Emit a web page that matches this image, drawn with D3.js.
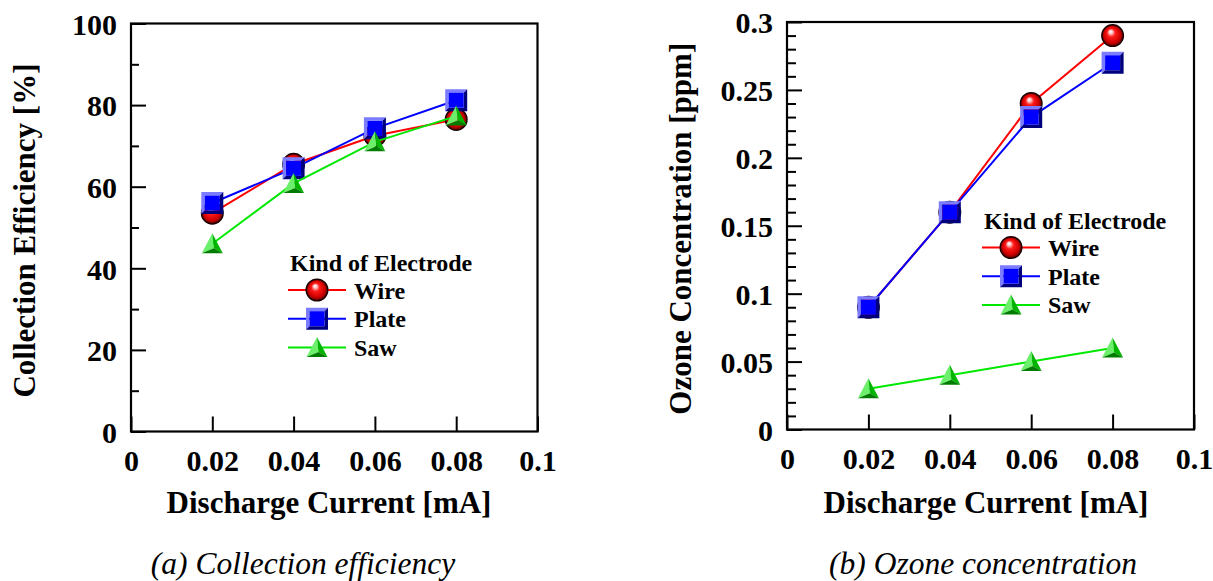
<!DOCTYPE html>
<html>
<head>
<meta charset="utf-8">
<script src="https://cdn.jsdelivr.net/npm/d3@7"></script>
<style>
  html, body { margin: 0; padding: 0; background: #fff; }
  svg { display: block; }
  .tick text { font-family: "Liberation Serif", "Times New Roman", serif; font-weight: bold; font-size: 30px; fill: #000; }
  .title { font-family: "Liberation Serif", "Times New Roman", serif; font-weight: bold; font-size: 31px; fill: #000; }
  .caption { font-family: "Liberation Serif", "Times New Roman", serif; font-style: italic; font-size: 31.5px; fill: #000; }
  .legend { font-family: "Liberation Serif", "Times New Roman", serif; font-weight: bold; font-size: 24px; fill: #000; }
</style>
</head>
<body>
<script>
// Discharge current (mA) at which each electrode was measured
const current = [0.02, 0.04, 0.06, 0.08];
const currentTicks = [0, 0.02, 0.04, 0.06, 0.08, 0.1];
const currentTickLabels = ["0", "0.02", "0.04", "0.06", "0.08", "0.1"];

// Collection efficiency [%]
const effWire  = [53.5, 65.5, 72.5, 76.5];
const effPlate = [56, 64.5, 74.3, 81.2];
const effSaw   = [46, 60.8, 71, 77.3];
const effTicks = [0, 20, 40, 60, 80, 100];
const effTickLabels = ["0", "20", "40", "60", "80", "100"];
const effMinorTicks = [10, 30, 50, 70, 90];

// Ozone concentration [ppm]
const ozWire  = [0.09, 0.16, 0.24, 0.29];
const ozPlate = [0.09, 0.16, 0.23, 0.27];
const ozSaw   = [0.03, 0.04, 0.05, 0.06];
const ozTicks = [0, 0.05, 0.1, 0.15, 0.2, 0.25, 0.3];
const ozTickLabels = ["0", "0.05", "0.1", "0.15", "0.2", "0.25", "0.3"];
const ozMinorTicks = [0.01, 0.02, 0.03, 0.04, 0.06, 0.07, 0.08, 0.09, 0.11, 0.12, 0.13, 0.14,
                      0.16, 0.17, 0.18, 0.19, 0.21, 0.22, 0.23, 0.24, 0.26, 0.27, 0.28, 0.29];

const seriesNames = ["Wire", "Plate", "Saw"];
const legendTitle = "Kind of Electrode";

const lineColor = { Wire: "#ff0000", Plate: "#0000ff", Saw: "#00e800" };
const markerKind = { Wire: "sphere", Plate: "box", Saw: "pyramid" };

const svg = d3.select("body").append("svg")
  .attr("width", 1213).attr("height", 581)
  .style("background", "#fff");

// Shared shading for the spherical marker
const defs = svg.append("defs");
const rg = defs.append("radialGradient").attr("id", "sphereFill")
  .attr("cx", 0.5).attr("cy", 0.5).attr("r", 0.5).attr("fx", 0.4).attr("fy", 0.3);
[[0, "#ffffff"], [0.16, "#ffc8c8"], [0.38, "#ff1a1a"], [0.75, "#d00000"], [1, "#600000"]]
  .forEach(([o, c]) => rg.append("stop").attr("offset", o).attr("stop-color", c));

function drawMarker(g, kind, cx, cy) {
  const m = g.append("g").attr("transform", `translate(${cx},${cy})`);
  if (kind === "sphere") {
    m.append("circle").attr("r", 10.8).attr("fill", "url(#sphereFill)")
      .attr("stroke", "#1a0000").attr("stroke-width", 1.4);
  } else if (kind === "box") {
    const s = 11, b = 3.5;
    m.append("polygon")
      .attr("points", [[-s, -s], [s, -s], [s - b, -s + b], [-s + b, -s + b], [-s + b, s - b], [-s, s]].join(" "))
      .attr("fill", "#7c7cff");
    m.append("polygon")
      .attr("points", [[s, -s], [s, s], [-s, s], [-s + b, s - b], [s - b, s - b], [s - b, -s + b]].join(" "))
      .attr("fill", "#00007c");
    m.append("rect").attr("x", -s + b).attr("y", -s + b)
      .attr("width", 2 * (s - b)).attr("height", 2 * (s - b)).attr("fill", "#0000ff");
  } else {
    const top = [0, -10.5], bl = [-10.5, 9.5], br = [10.5, 9.5], inner = [1.5, 4.5];
    m.append("polygon").attr("points", [top, bl, inner].join(" ")).attr("fill", "#6cf06c");
    m.append("polygon").attr("points", [top, inner, br].join(" ")).attr("fill", "#00b400");
    m.append("polygon").attr("points", [bl, br, inner].join(" ")).attr("fill", "#007c00");
  }
}

function panel(cfg) {
  const x = d3.scaleLinear().domain([0, 0.1]).range([cfg.left, cfg.right]);
  const y = d3.scaleLinear().domain(cfg.yDomain).range([cfg.bottom, cfg.top]);
  const g = svg.append("g");

  // Minor ticks on the value axis
  g.append("g").attr("transform", `translate(${cfg.left},0)`)
    .call(d3.axisLeft(y).tickValues(cfg.minor).tickSize(-cfg.minorLen).tickFormat(""))
    .call(a => a.select(".domain").remove())
    .call(a => a.selectAll("line").attr("stroke", "#000").attr("stroke-width", 2));

  // Major ticks and labels on the value axis
  g.append("g").attr("transform", `translate(${cfg.left},0)`)
    .call(d3.axisLeft(y).tickValues(cfg.yTicks).tickSize(-15).tickPadding(14)
      .tickFormat((d, i) => cfg.yLabels[i]))
    .call(a => a.select(".domain").remove())
    .call(a => a.selectAll("line").attr("stroke", "#000").attr("stroke-width", 2))
    .call(a => a.selectAll("text").attr("dy", "0.36em"));

  // Current axis
  g.append("g").attr("transform", `translate(0,${cfg.bottom})`)
    .call(d3.axisBottom(x).tickValues(currentTicks).tickSize(-15).tickPadding(18)
      .tickFormat((d, i) => currentTickLabels[i]))
    .call(a => a.select(".domain").remove())
    .call(a => a.selectAll("line").attr("stroke", "#000").attr("stroke-width", 2));

  // Frame
  g.append("rect").attr("x", cfg.left).attr("y", cfg.top)
    .attr("width", cfg.right - cfg.left).attr("height", cfg.bottom - cfg.top)
    .attr("fill", "none").attr("stroke", "#000").attr("stroke-width", 2.2);

  // Series: line then markers, in order
  const line = d3.line().x((d, i) => x(current[i])).y(d => y(d));
  seriesNames.forEach((name, k) => {
    const vals = cfg.series[k];
    g.append("path").attr("d", line(vals)).attr("fill", "none")
      .attr("stroke", lineColor[name]).attr("stroke-width", 2);
    vals.forEach((v, i) => drawMarker(g, markerKind[name], x(current[i]), y(v)));
  });

  // Legend
  const L = cfg.legend;
  g.append("text").attr("class", "legend").attr("x", L.x).attr("y", L.y).text(legendTitle);
  seriesNames.forEach((name, k) => {
    const ly = L.y + 19 + k * 28.7;
    g.append("line").attr("x1", L.x - 2).attr("x2", L.x + 56).attr("y1", ly).attr("y2", ly)
      .attr("stroke", lineColor[name]).attr("stroke-width", 2);
    drawMarker(g, markerKind[name], L.x + 27, ly);
    g.append("text").attr("class", "legend").attr("x", L.x + 64).attr("y", ly + 8.5).text(name);
  });

  // Titles and caption
  g.append("text").attr("class", "title").attr("text-anchor", "middle")
    .attr("transform", `translate(${cfg.yTitleX},${(cfg.top + cfg.bottom) / 2 + 3}) rotate(-90)`)
    .text(cfg.yTitle);
  g.append("text").attr("class", "title").attr("text-anchor", "middle")
    .attr("x", cfg.xTitleX).attr("y", 513).text("Discharge Current [mA]");
  g.append("text").attr("class", "caption").attr("text-anchor", "middle")
    .attr("x", cfg.captionX).attr("y", 574).text(cfg.caption);
}

panel({
  left: 131, right: 537.5, top: 23.5, bottom: 431.5,
  yDomain: [0, 100], yTicks: effTicks, yLabels: effTickLabels, minor: effMinorTicks, minorLen: 8,
  series: [effWire, effPlate, effSaw],
  legend: { x: 290, y: 271 },
  yTitle: "Collection Efficiency [%]", yTitleX: 35,
  xTitleX: 329, captionX: 303, caption: "(a) Collection efficiency"
});

panel({
  left: 787, right: 1194, top: 22, bottom: 429.5,
  yDomain: [0, 0.3], yTicks: ozTicks, yLabels: ozTickLabels, minor: ozMinorTicks, minorLen: 9,
  series: [ozWire, ozPlate, ozSaw],
  legend: { x: 984, y: 228.5 },
  yTitle: "Ozone Concentration [ppm]", yTitleX: 691,
  xTitleX: 986, captionX: 983, caption: "(b) Ozone concentration"
});
</script>
</body>
</html>
